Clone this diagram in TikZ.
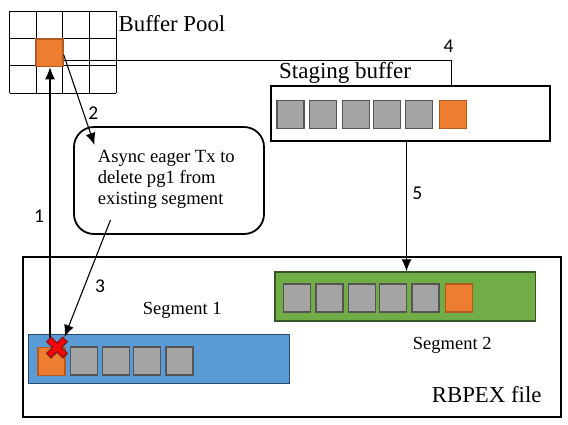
\documentclass[tikz,border=0pt]{standalone}
\usepackage{fontspec}
\setmainfont{Liberation Serif}
\newfontfamily\numfont{Carlito}
\usetikzlibrary{arrows.meta}
\definecolor{orfill}{HTML}{ED7D31}
\definecolor{ordraw}{HTML}{B35A1F}
\definecolor{grfill}{HTML}{A5A5A5}
\definecolor{grdraw}{HTML}{555555}
\definecolor{blfill}{HTML}{5B9BD5}
\definecolor{bldraw}{HTML}{2A4A6E}
\definecolor{gnfill}{HTML}{70AD47}
\definecolor{gndraw}{HTML}{375623}
\definecolor{xred}{HTML}{FF0000}
\definecolor{xdark}{HTML}{8B1A1A}
\tikzset{
  sq/.style={draw=grdraw, fill=grfill, line width=1.4pt, minimum width=27pt, minimum height=28pt, inner sep=0pt},
  osq/.style={sq, draw=ordraw, fill=orfill},
  bigbox/.style={draw=black, line width=1.8pt, inner sep=0pt},
  conn/.style={draw=black, line width=1.1pt},
  arr/.style={conn, -{Latex[length=12pt,width=10pt]}},
  num/.style={font=\numfont\fontsize{19.5}{20}\selectfont, inner sep=0pt},
  lbl/.style={inner sep=0pt, anchor=base west},
}
\begin{document}
\begin{tikzpicture}[x=1pt,y=-1pt]
\useasboundingbox (0,0) rectangle (568,424);
% buffer pool grid
\foreach \gx in {9.5,36.2,62.9,89.6,116.3} \draw[line width=1pt] (\gx,11) -- (\gx,93);
\foreach \gy in {11,38.5,65.7,93} \draw[line width=1pt] (9.5,\gy) -- (116.3,\gy);
\node[osq, minimum width=27pt, minimum height=27.7pt] (bp) at (49.5,52.8) {};
\node[lbl, font=\fontsize{22.8}{24}\selectfont] (bptxt) at (118.5,31.7) {Buffer Pool};
% staging buffer
\node[bigbox, minimum width=279pt, minimum height=55pt] (stg) at (410.5,113.5) {};
\node[lbl, font=\fontsize{23}{24}\selectfont] (stgtxt) at (279,78.3) {Staging buffer};
\node[sq] (s1) at (290.3,114.3) {};
\node[sq] (s2) at (323,114.3) {};
\node[sq] (s3) at (356,114.3) {};
\node[sq] (s4) at (387,114.3) {};
\node[sq] (s5) at (419,114.3) {};
\node[osq] (s6) at (452.7,114.3) {};
% async box
\node[draw=black, line width=1.8pt, rounded corners=20pt, minimum width=190pt, minimum height=107pt, inner sep=0pt] (async) at (169,180.5) {};
\node[lbl, align=left, anchor=north west, font=\fontsize{18.6}{21.2}\selectfont] (asynctxt) at (97.7,150) {Async eager Tx to\\delete pg1 from\\existing segment};
% RBPEX file
\node[bigbox, minimum width=538.5pt, minimum height=159.5pt] (rb) at (291.9,337) {};
\node[lbl, font=\fontsize{22.8}{24}\selectfont] (rbtxt) at (431.7,402.7) {RBPEX file};
% segment 1
\node[draw=bldraw, fill=blfill, line width=1.4pt, minimum width=260.6pt, minimum height=49pt, inner sep=0pt] (seg1) at (159,358.8) {};
\node[osq] (a1) at (51.5,361.2) {};
\node[sq] (a2) at (83.7,361) {};
\node[sq] (a3) at (116,361) {};
\node[sq] (a4) at (147,361) {};
\node[sq] (a5) at (179.4,361) {};
\node[lbl, font=\fontsize{18.5}{20}\selectfont] (seg1txt) at (142.7,314) {Segment 1};
% segment 2
\node[draw=gndraw, fill=gnfill, line width=1.4pt, minimum width=260.7pt, minimum height=49pt, inner sep=0pt] (seg2) at (405.3,296.5) {};
\node[sq] (b1) at (296.7,297.8) {};
\node[sq] (b2) at (329.5,297.8) {};
\node[sq] (b3) at (362.2,297.8) {};
\node[sq] (b4) at (393,297.8) {};
\node[sq] (b5) at (425.3,297.8) {};
\node[osq] (b6) at (459.2,297.8) {};
\node[lbl, font=\fontsize{18.5}{20}\selectfont] (seg2txt) at (412.7,349) {Segment 2};
% connectors
\coordinate (xm) at (57,347.5);
\coordinate (x1) at (50,345);
\coordinate (x3) at (64.5,337);
\coordinate (c4) at (451.7,60.8);
\draw[conn] ([yshift=-8pt]bp.east) -- (c4) -- (c4 |- stg.north);
\node[num] (n4) at (448.5,46.7) {4};
\draw[arr] (x1) -- (bp.south -| x1);
\node[num] (n1) at (39,216.5) {1};
\draw[arr] ([shift={(0pt,-2pt)}]bp.east) -- (94.5,145);
\node[num] (n2) at (93.2,113.5) {2};
\draw[arr] (110.5,220) -- (x3);
\node[num] (n3) at (100,286.7) {3};
\draw[arr] (stg.south -| 406.5,0) -- (seg2.north -| 406.5,0);
\node[num] (n5) at (417.2,193.3) {5};
% red cross
\draw[xdark, line width=7.5pt] ([shift={(-8.5pt,8.5pt)}]xm) -- ([shift={(8.5pt,-8.5pt)}]xm) ([shift={(-8.5pt,-8.5pt)}]xm) -- ([shift={(8.5pt,8.5pt)}]xm);
\draw[xred, line width=4.5pt] ([shift={(-7.5pt,7.5pt)}]xm) -- ([shift={(7.5pt,-7.5pt)}]xm) ([shift={(-7.5pt,-7.5pt)}]xm) -- ([shift={(7.5pt,7.5pt)}]xm);
\end{tikzpicture}
\end{document}
